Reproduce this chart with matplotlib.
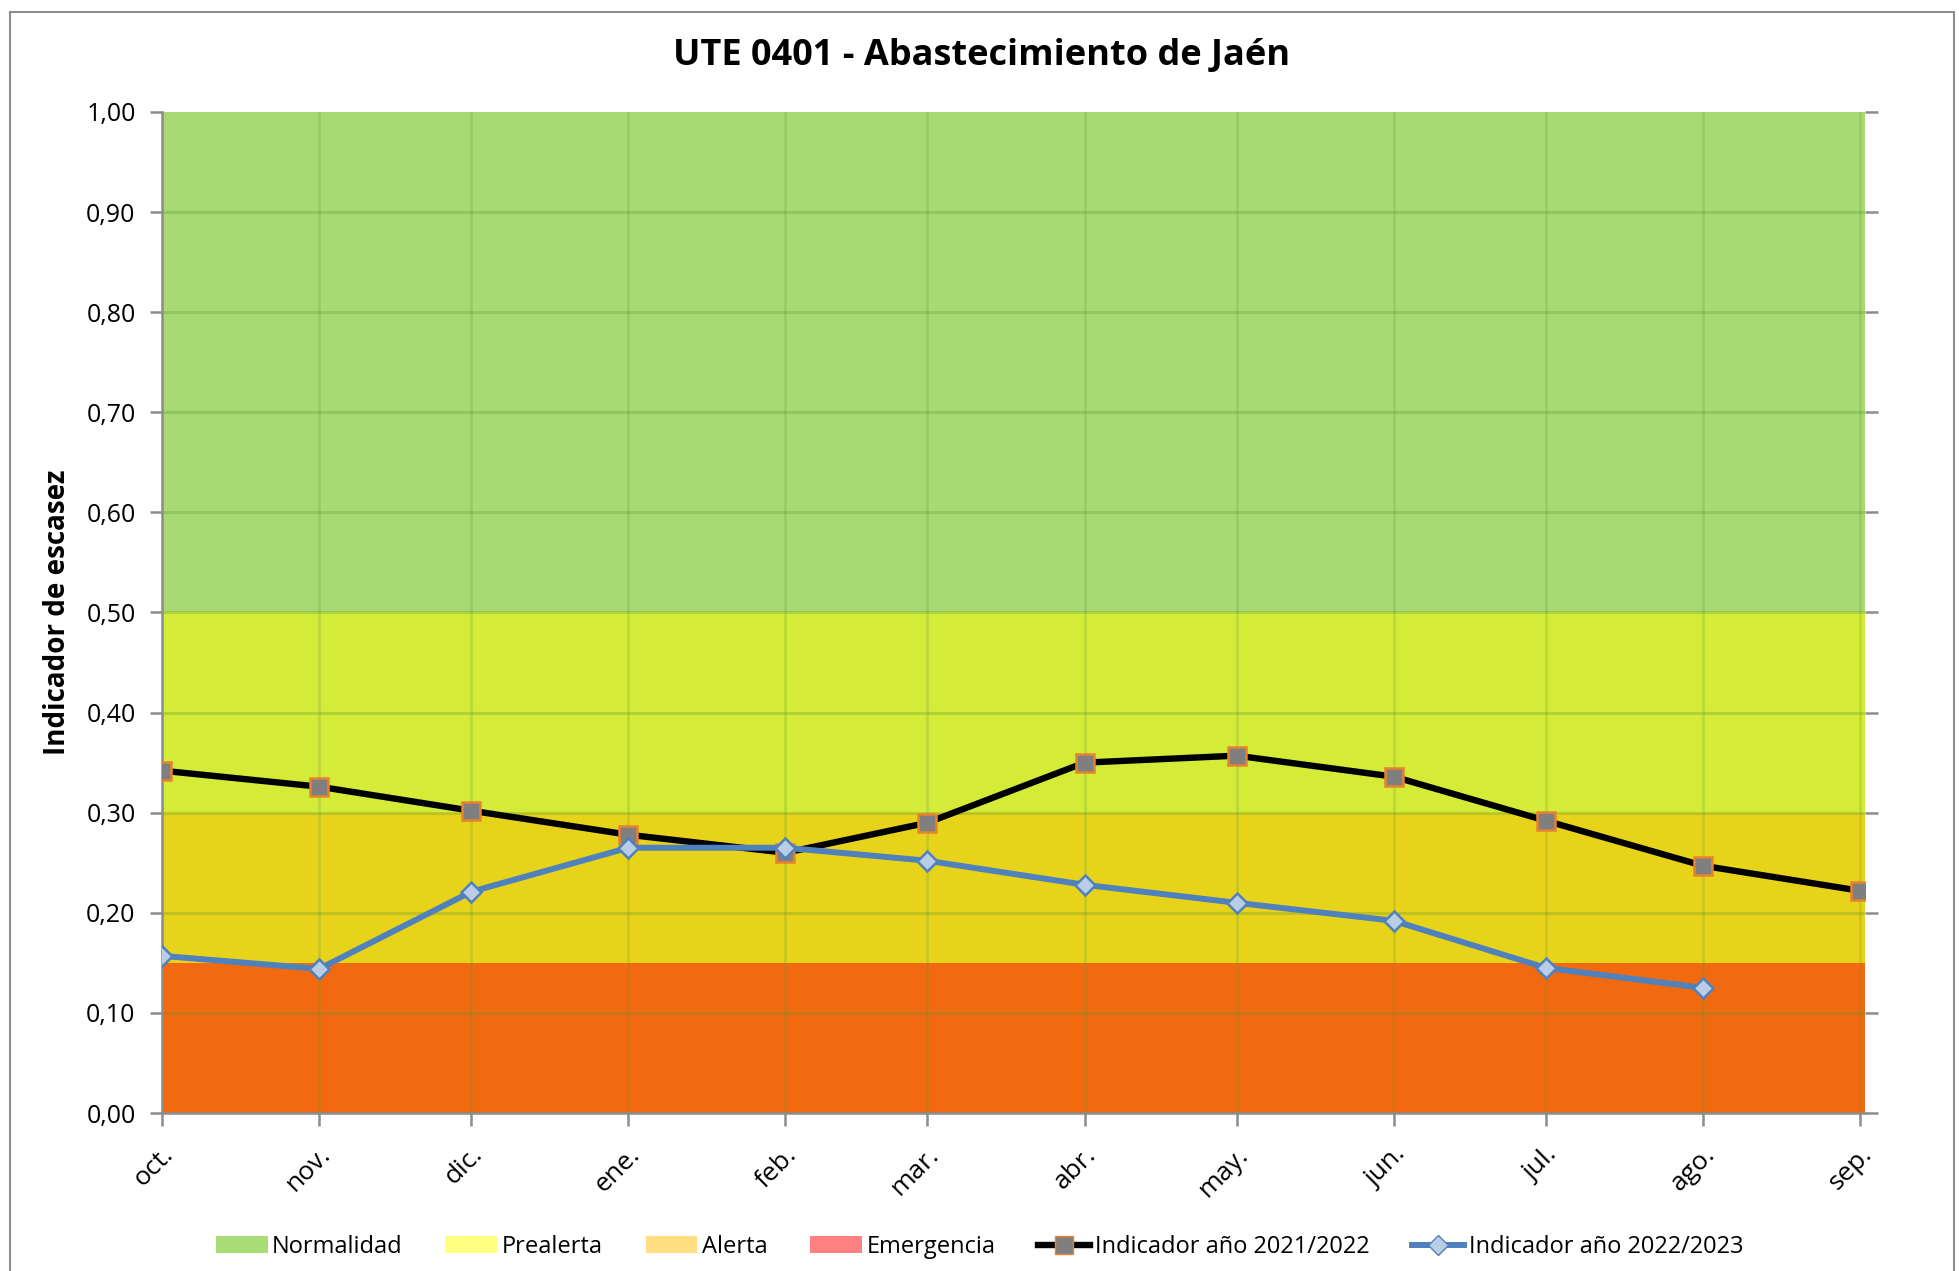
import pandas as pd
import matplotlib.pyplot as plt
from matplotlib.patches import Patch, Rectangle
from matplotlib.lines import Line2D
from matplotlib.transforms import ScaledTranslation

# Data
meses = ['oct.', 'nov.', 'dic.', 'ene.', 'feb.', 'mar.', 'abr.', 'may.', 'jun.', 'jul.', 'ago.', 'sep.']
fechas = ['2021-10-01', '2021-11-01', '2021-12-01', '2022-01-01', '2022-02-01', '2022-03-01',
          '2022-04-01', '2022-05-01', '2022-06-01', '2022-07-01', '2022-08-01', '2022-09-01']
ind_2122 = [0.342, 0.326, 0.302, 0.278, 0.260, 0.290, 0.350, 0.357, 0.336, 0.292, 0.247, 0.222]
ind_2223 = [0.157, 0.144, 0.221, 0.265, 0.265, 0.252, 0.228, 0.210, 0.192, 0.145, 0.125]

# Umbrales de los escenarios
umbrales = [0.0, 0.15, 0.30, 0.50, 1.0]
zonas = ['Emergencia', 'Alerta', 'Prealerta', 'Normalidad']
col_fill = ['#F26A10', '#E8D31B', '#D4EB37', '#A9D973']
col_leg = ['#FF8080', '#FFDD80', '#FFFF80', '#A9DC74']

x = pd.to_datetime(fechas)

plt.rcParams['font.family'] = ['Open Sans', 'DejaVu Sans']

fig = plt.figure(figsize=(19.59, 12.71), dpi=100, facecolor='white')
ax = fig.add_axes([0.0827, 0.1243, 0.8694, 0.7876])

# outer chart border
fig.patches.append(Rectangle((10 / 1959, -0.05), 1944 / 1959, 1.05 - 12 / 1271,
                             transform=fig.transFigure, fill=False,
                             edgecolor='#8C8C8C', linewidth=1.5))

x_end = x[-1] + pd.Timedelta(days=1)
for i in range(4):
    ax.axhspan(umbrales[i], umbrales[i + 1], color=col_fill[i], zorder=0, linewidth=0)

ax.set_xlim(x[0], x_end)
ax.set_ylim(0, 1.0)

# grid on top of fills
for yv in [0.1 * k for k in range(1, 10)]:
    ax.axhline(yv, color='#5E9A2E', alpha=0.3, linewidth=2.2, zorder=1)
for xv in x[1:]:
    ax.axvline(xv, color='#5E9A2E', alpha=0.22, linewidth=2, zorder=1)

ax.plot(x, ind_2122, color='black', linewidth=4.6, marker='s', markersize=13,
        markerfacecolor='#7F7F7F', markeredgecolor='#E8822E', markeredgewidth=1.8, zorder=3)
ax.plot(x[:len(ind_2223)], ind_2223, color='#4F81BD', linewidth=4.3, marker='D', markersize=10,
        markerfacecolor='#B9CDE5', markeredgecolor='#4F81BD', markeredgewidth=1.8, zorder=4)

ax.set_yticks([0.1 * k for k in range(11)])
ax.set_yticklabels(['{:.2f}'.format(0.1 * k).replace('.', ',') for k in range(11)], fontsize=18)
ax.set_xticks(x)
ax.tick_params(axis='x', length=9, width=1.8, color='#8C8C8C', labelbottom=False)
ax.tick_params(axis='y', length=9, width=1.8, color='#8C8C8C', pad=10)
ax.tick_params(axis='y', which='both', right=True, direction='out')

# rotated month labels, placed like Excel does
off = ScaledTranslation(8 / 100, -38 / 100, fig.dpi_scale_trans)
for xv, mes in zip(x, meses):
    ax.text(xv, 0, mes, transform=ax.get_xaxis_transform() + off, fontsize=19,
            rotation=45, ha='right', va='center', rotation_mode='anchor', clip_on=False)

for s in ['top', 'right']:
    ax.spines[s].set_visible(False)
for s in ['left', 'bottom']:
    ax.spines[s].set_color('#8C8C8C')
    ax.spines[s].set_linewidth(1.8)

ax.set_ylabel('Indicador de escasez', fontsize=20, fontweight='bold', labelpad=10)
fig.text(0.501, 0.956, 'UTE 0401 - Abastecimiento de Jaén', fontsize=26, fontweight='bold',
         ha='center', va='center')

handles = [Patch(facecolor=col_leg[3], label=zonas[3]),
           Patch(facecolor=col_leg[2], label=zonas[2]),
           Patch(facecolor=col_leg[1], label=zonas[1]),
           Patch(facecolor=col_leg[0], label=zonas[0]),
           Line2D([], [], color='black', linewidth=4.6, marker='s', markersize=13,
                  markerfacecolor='#7F7F7F', markeredgecolor='#E8822E', label='Indicador año 2021/2022'),
           Line2D([], [], color='#4F81BD', linewidth=4.3, marker='D', markersize=10,
                  markerfacecolor='#B9CDE5', markeredgecolor='#4F81BD', label='Indicador año 2022/2023')]
fig.legend(handles=handles, loc='center', bbox_to_anchor=(0.5, 0.019), ncol=6, frameon=False,
           fontsize=17, handlelength=2.2, handleheight=0.7, handletextpad=0.2, columnspacing=1.8)

fig.savefig('out.png', dpi=100, facecolor='white')
